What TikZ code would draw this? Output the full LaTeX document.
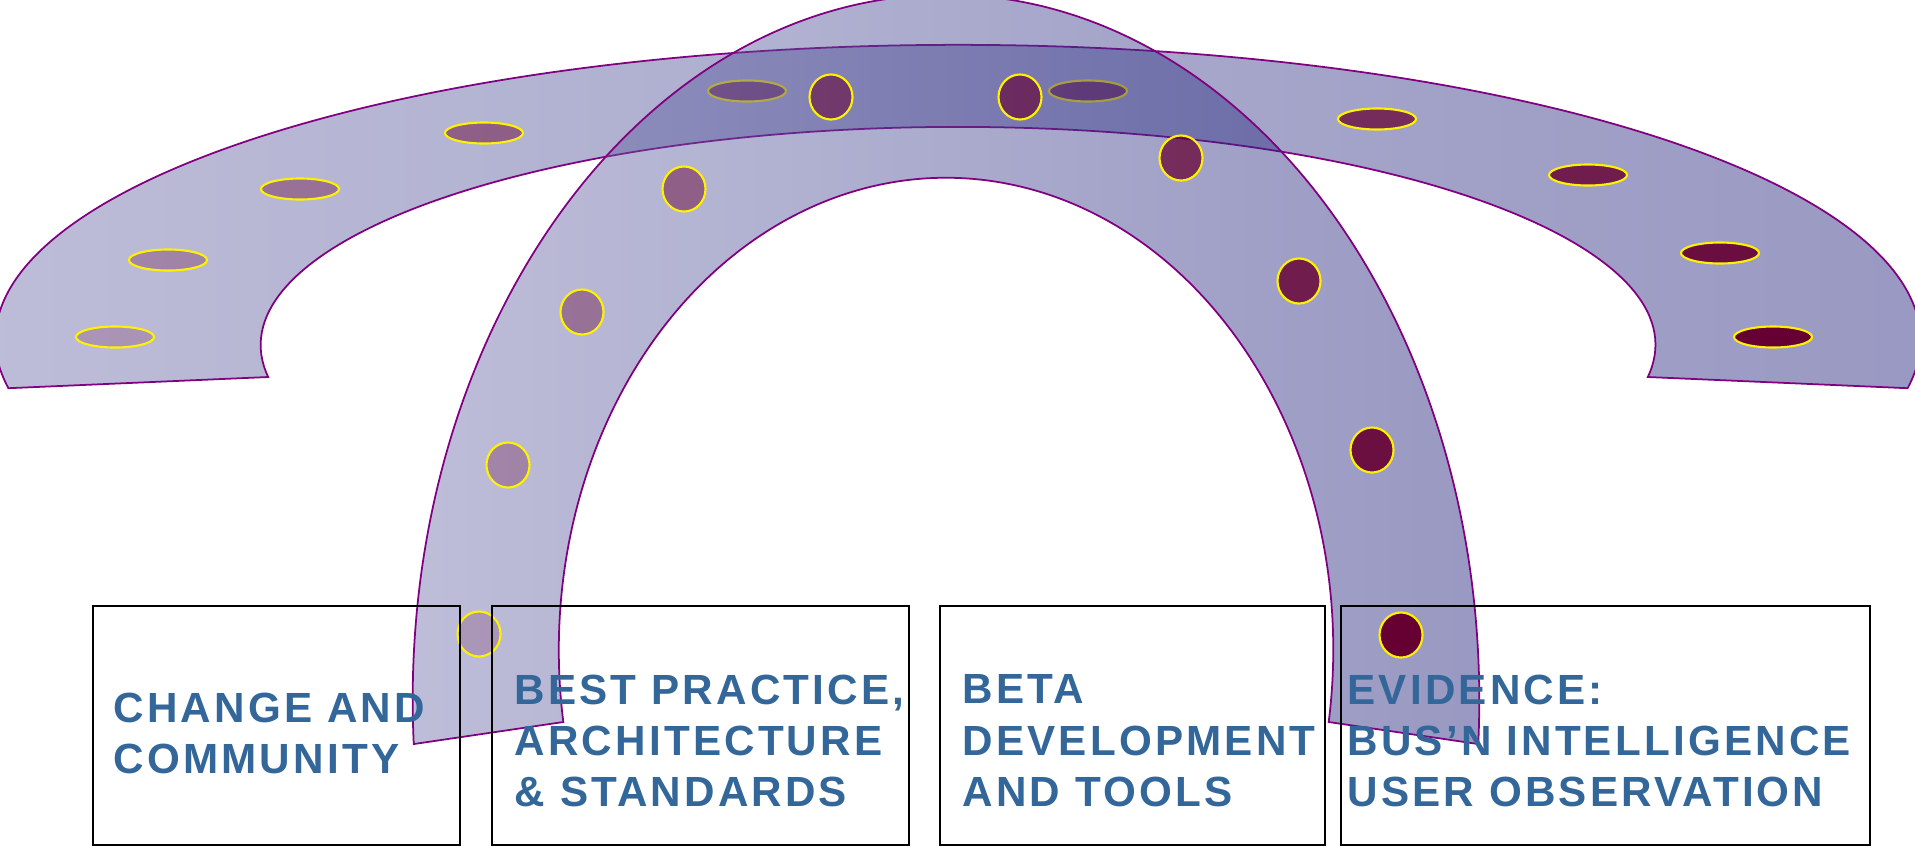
\documentclass[tikz,border=0pt]{standalone}
\usepackage{fontspec}
\newfontfamily\boxfont[LetterSpace=7.5]{Liberation Sans}
\usetikzlibrary{shapes.geometric}
\definecolor{arcline}{HTML}{800080}
\definecolor{dotfill}{HTML}{660033}
\definecolor{boxtext}{HTML}{336699}
\definecolor{bandleft}{RGB}{190,190,217}
\definecolor{bandright}{RGB}{152,152,194}
\definecolor{archleft}{RGB}{111,111,171}
\definecolor{archright}{RGB}{27,27,120}

\begin{document}
\begin{tikzpicture}[x = 0.01cm, y = 0.01cm,
	band/.style = {draw = arcline, line width = 0.5pt, left color = bandleft, right color = bandright},
	arch/.style = {draw = arcline, line width = 0.5pt, left color = archleft, right color = archright, fill opacity = 0.45},
	hdot/.style = {draw = yellow, line width = 0.6pt, fill = dotfill, ellipse, inner sep = 0, minimum width = 0.78cm, minimum height = 0.21cm},
	vdot/.style = {draw = yellow, line width = 0.6pt, fill = dotfill, ellipse, inner sep = 0, minimum width = 0.43cm, minimum height = 0.45cm},
	topic/.style = {draw, line width = 0.6pt, rectangle, minimum height = 2.39cm},
	boxlabel/.style = {anchor = north west, inner sep = 0, align = left, text = boxtext, font = {\boxfont\bfseries\fontsize{12}{14.6}\selectfont}}]
		\useasboundingbox (0,0) rectangle (1915,847);
		\path (958,507) ++(189.4:9.62cm and 2.95cm) coordinate (houtL);
		\path (958,502) ++(-8.44:6.97cm and 2.18cm) coordinate (hinR);
		\path (946,147) ++(183.58:5.33cm and 7.05cm) coordinate (voutL);
		\path (946,197) ++(-8.77:3.87cm and 4.72cm) coordinate (vinR);
		\path[band] (houtL) arc[start angle = 189.4, end angle = -9.4, x radius = 9.62cm, y radius = 2.95cm] -- (hinR) arc[start angle = -8.44, end angle = 188.44, x radius = 6.97cm, y radius = 2.18cm] -- cycle;
		\node[hdot, fill opacity = 0.2] (e1) at (115, 510) {};
		\node[hdot, fill opacity = 0.29] (e2) at (168, 587) {};
		\node[hdot, fill opacity = 0.38] (e3) at (300, 658) {};
		\node[hdot, fill opacity = 0.47] (e4) at (484, 714) {};
		\node[hdot, fill opacity = 0.56] (e5) at (747, 756) {};
		\node[hdot, fill opacity = 0.64] (e6) at (1088, 756) {};
		\node[hdot, fill opacity = 0.73] (e7) at (1377, 728) {};
		\node[hdot, fill opacity = 0.82] (e8) at (1588, 672) {};
		\node[hdot, fill opacity = 0.91] (e9) at (1720, 594) {};
		\node[hdot] (e10) at (1773, 510) {};
		\path[arch] (voutL) arc[start angle = 183.58, end angle = -3.58, x radius = 5.33cm, y radius = 7.05cm] -- (vinR) arc[start angle = -8.77, end angle = 188.77, x radius = 3.87cm, y radius = 4.72cm] -- cycle;
		\node[vdot, fill opacity = 0.2] (c1) at (479, 213) {};
		\node[vdot, fill opacity = 0.29] (c2) at (508, 382) {};
		\node[vdot, fill opacity = 0.38] (c3) at (582, 535) {};
		\node[vdot, fill opacity = 0.47] (c4) at (684, 658) {};
		\node[vdot, fill opacity = 0.56] (c5) at (831, 750) {};
		\node[vdot, fill opacity = 0.64] (c6) at (1020, 750) {};
		\node[vdot, fill opacity = 0.73] (c7) at (1181, 689) {};
		\node[vdot, fill opacity = 0.82] (c8) at (1299, 566) {};
		\node[vdot, fill opacity = 0.91] (c9) at (1372, 397) {};
		\node[vdot] (c10) at (1401, 212) {};
		\node[topic, minimum width = 3.67cm] (box1) at (276.5, 121.5) {};
		\node[topic, minimum width = 4.17cm] (box2) at (700.5, 121.5) {};
		\node[topic, minimum width = 3.85cm] (box3) at (1132.5, 121.5) {};
		\node[topic, minimum width = 5.29cm] (box4) at (1605.5, 121.5) {};
		\node[boxlabel] (t1) at (113, 155) {CHANGE AND\\COMMUNITY};
		\node[boxlabel] (t2) at (514, 173) {BEST PRACTICE,\\ARCHITECTURE\\\& STANDARDS};
		\node[boxlabel] (t3) at (962, 173) {BETA\\DEVELOPMENT\\AND TOOLS};
		\node[boxlabel] (t4) at (1347, 173) {EVIDENCE:\\BUS’N INTELLIGENCE\\USER OBSERVATION};
	\end{tikzpicture}
\end{document}
